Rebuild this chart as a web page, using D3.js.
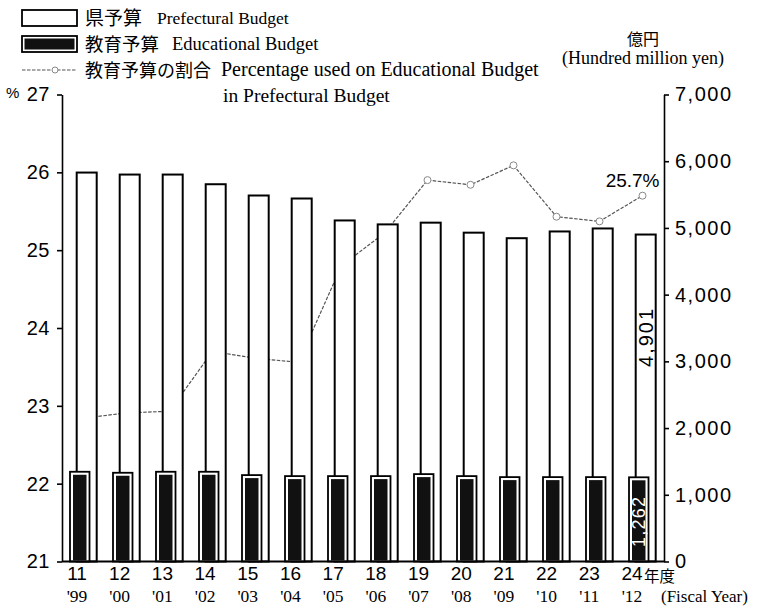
<!DOCTYPE html>
<html><head><meta charset="utf-8">
<script src="https://cdn.jsdelivr.net/npm/d3@7"></script>
<style>body{margin:0;background:#fff} svg{display:block}</style>
</head><body>
<svg id="chart" width="765" height="608"></svg>
<script>
// Fiscal years (Heisei era) and their western equivalents
const years = ["11","12","13","14","15","16","17","18","19","20","21","22","23","24"];
const yearsWestern = ["'99","'00","'01","'02","'03","'04","'05","'06","'07","'08","'09","'10","'11","'12"];
// Prefectural budget, hundred million yen
const prefBudget = [5830, 5800, 5800, 5655, 5486, 5441, 5112, 5053, 5079, 4929, 4846, 4947, 4992, 4901];
// Educational budget, hundred million yen
const eduBudget = [1345, 1330, 1345, 1345, 1295, 1280, 1280, 1280, 1310, 1280, 1265, 1265, 1265, 1262];
// Share of the educational budget in the prefectural budget, %
const eduShare = [22.84, 22.91, 22.93, 23.70, 23.61, 23.56, 24.80, 25.22, 25.90, 25.84, 26.09, 25.43, 25.37, 25.7];
const shareTicks = [21, 22, 23, 24, 25, 26, 27];
const yenTicks = [0, 1000, 2000, 3000, 4000, 5000, 6000, 7000];

const svg = d3.select("#chart");
const plotL = 62, plotR = 664, plotT = 94.5, plotB = 561.5;
const sans = "'Liberation Sans', Arial, sans-serif";
const serif = "'Liberation Serif', 'Times New Roman', serif";
const cjk = "'Noto Sans CJK JP', sans-serif";

const x = d3.scaleBand().domain(years).range([plotL, plotR]).paddingInner(0).paddingOuter(0);
const xLabel = d3.scalePoint().domain(years).range([77, 632]);
const yYen = d3.scaleLinear().domain([0, 7000]).range([plotB, plotT]);
const yPct = d3.scaleLinear().domain([21, 27]).range([plotB, plotT]);

const whiteOff = 14.7, whiteW = 20, darkOff = 8, darkW = 19.5;

// Share line (sits behind the bars)
const line = d3.line()
  .x((d, i) => x(years[i]) + x.bandwidth() / 2)
  .y(d => yPct(d));
svg.append("path").datum(eduShare)
  .attr("d", line).attr("fill", "none")
  .attr("stroke", "#555").attr("stroke-width", 1.2)
  .attr("stroke-dasharray", "3.5,1.5");
svg.selectAll("circle.pt").data(eduShare).join("circle")
  .attr("class", "pt")
  .attr("cx", (d, i) => x(years[i]) + x.bandwidth() / 2)
  .attr("cy", d => yPct(d))
  .attr("r", 3.5).attr("fill", "#fff").attr("stroke", "#888").attr("stroke-width", 1);

// Prefectural budget bars
svg.selectAll("rect.pref").data(prefBudget).join("rect")
  .attr("class", "pref")
  .attr("x", (d, i) => x(years[i]) + whiteOff)
  .attr("width", whiteW)
  .attr("y", d => yYen(d))
  .attr("height", d => yYen(0) - yYen(d))
  .attr("fill", "#fff").attr("stroke", "#000").attr("stroke-width", 2);

// Educational budget bars: outlined box with a dark core
svg.selectAll("rect.edu").data(eduBudget).join("rect")
  .attr("class", "edu")
  .attr("x", (d, i) => x(years[i]) + darkOff)
  .attr("width", darkW)
  .attr("y", d => yYen(d))
  .attr("height", d => yYen(0) - yYen(d))
  .attr("fill", "#fff").attr("stroke", "#000").attr("stroke-width", 1.8);
svg.selectAll("rect.eduCore").data(eduBudget).join("rect")
  .attr("class", "eduCore")
  .attr("x", (d, i) => x(years[i]) + darkOff + 3)
  .attr("width", darkW - 6)
  .attr("y", d => yYen(d) + 3)
  .attr("height", d => yYen(0) - yYen(d) - 4)
  .attr("fill", "#111");

// Baseline
svg.append("line").attr("x1", plotL).attr("x2", plotR)
  .attr("y1", plotB).attr("y2", plotB)
  .attr("stroke", "#000").attr("stroke-width", 2);

// Axes
const axL = svg.append("g").attr("transform", `translate(${plotL},0)`)
  .call(d3.axisLeft(yPct).tickValues(shareTicks).tickSize(5).tickSizeOuter(0).tickFormat(d3.format("d")));
const axR = svg.append("g").attr("transform", `translate(${plotR},0)`)
  .call(d3.axisRight(yYen).tickValues(yenTicks).tickSize(5).tickSizeOuter(0).tickFormat(d3.format(",")));
[axL, axR].forEach(g => {
  g.select(".domain").attr("stroke-width", 1.6);
  g.selectAll(".tick line").attr("stroke-width", 1.6);
  g.selectAll(".tick text").attr("font-family", sans).attr("font-size", 20).attr("fill", "#000");
});
axL.selectAll(".tick text").attr("x", -12).attr("letter-spacing", 0.5);
axR.selectAll(".tick text").attr("x", 11).attr("letter-spacing", 1.5);

// Units
svg.append("text").attr("x", 6).attr("y", 98).attr("font-family", sans).attr("font-size", 15).text("%");
svg.append("text").attr("x", 643).attr("y", 45).attr("text-anchor", "middle")
  .attr("font-family", cjk).attr("font-size", 16).text("億円");
svg.append("text").attr("x", 643).attr("y", 64).attr("text-anchor", "middle")
  .attr("font-family", serif).attr("font-size", 18).text("(Hundred million yen)");

// Category labels
svg.selectAll("text.yr").data(years).join("text")
  .attr("class", "yr")
  .attr("x", d => xLabel(d)).attr("y", 580)
  .attr("text-anchor", "middle").attr("font-family", sans).attr("font-size", 19)
  .text(d => d);
svg.selectAll("text.yw").data(yearsWestern).join("text")
  .attr("class", "yw")
  .attr("x", (d, i) => xLabel(years[i])).attr("y", 602)
  .attr("text-anchor", "middle").attr("font-family", serif).attr("font-size", 17.5)
  .text(d => d);
svg.append("text").attr("x", xLabel(years[13]) + 12).attr("y", 582)
  .attr("font-family", cjk).attr("font-size", 15.5).text("年度");
svg.append("text").attr("x", xLabel(years[13]) + 29).attr("y", 602)
  .attr("font-family", serif).attr("font-size", 17).text("(Fiscal Year)");

// Value labels for the last year
const last = 13;
const lx = x(years[last]);
svg.append("text")
  .attr("transform", `translate(${lx + whiteOff + whiteW / 2 + 7},${(yYen(prefBudget[last]) + yYen(eduBudget[last])) / 2 - 19}) rotate(-90)`)
  .attr("text-anchor", "middle").attr("font-family", sans).attr("font-size", 20).attr("letter-spacing", 2)
  .text(d3.format(",")(prefBudget[last]));
svg.append("text")
  .attr("transform", `translate(${lx + darkOff + darkW / 2 + 6.5},${(yYen(eduBudget[last]) + yYen(0)) / 2 + 2}) rotate(-90)`)
  .attr("text-anchor", "middle").attr("font-family", sans).attr("font-size", 18).attr("letter-spacing", 1.2)
  .attr("fill", "#fff")
  .text(d3.format(",")(eduBudget[last]));
svg.append("text")
  .attr("x", lx + x.bandwidth() / 2 + 17).attr("y", yPct(eduShare[last]) - 9)
  .attr("text-anchor", "end").attr("font-family", sans).attr("font-size", 19)
  .text(eduShare[last] + "%");

// Legend
const lg = svg.append("g");
lg.append("rect").attr("x", 22).attr("y", 10).attr("width", 55).attr("height", 16)
  .attr("fill", "#fff").attr("stroke", "#000").attr("stroke-width", 1.8);
lg.append("rect").attr("x", 22).attr("y", 36).attr("width", 55).attr("height", 16)
  .attr("fill", "#fff").attr("stroke", "#000").attr("stroke-width", 1.8);
lg.append("rect").attr("x", 24.5).attr("y", 38.5).attr("width", 50).attr("height", 11).attr("fill", "#111");
lg.append("line").attr("x1", 22).attr("x2", 77).attr("y1", 70).attr("y2", 70)
  .attr("stroke", "#555").attr("stroke-width", 1.2).attr("stroke-dasharray", "3.5,1.5");
lg.append("circle").attr("cx", 55).attr("cy", 70).attr("r", 3).attr("fill", "#fff")
  .attr("stroke", "#888").attr("stroke-width", 1);

const jp = [["県予算", 25, 19], ["教育予算", 51, 18.5], ["教育予算の割合", 77, 18]];
lg.selectAll("text.jp").data(jp).join("text").attr("class", "jp")
  .attr("x", 85).attr("y", d => d[1]).attr("font-family", cjk).attr("font-size", d => d[2]).text(d => d[0]);
const en = [["Prefectural Budget", 157, 24, 17.5], ["Educational Budget", 172, 50, 18.5],
            ["Percentage used on Educational Budget", 221, 76, 20], ["in Prefectural Budget", 223, 102, 19.5]];
lg.selectAll("text.en").data(en).join("text").attr("class", "en")
  .attr("x", d => d[1]).attr("y", d => d[2]).attr("font-family", serif).attr("font-size", d => d[3]).text(d => d[0]);
</script>
</body></html>
